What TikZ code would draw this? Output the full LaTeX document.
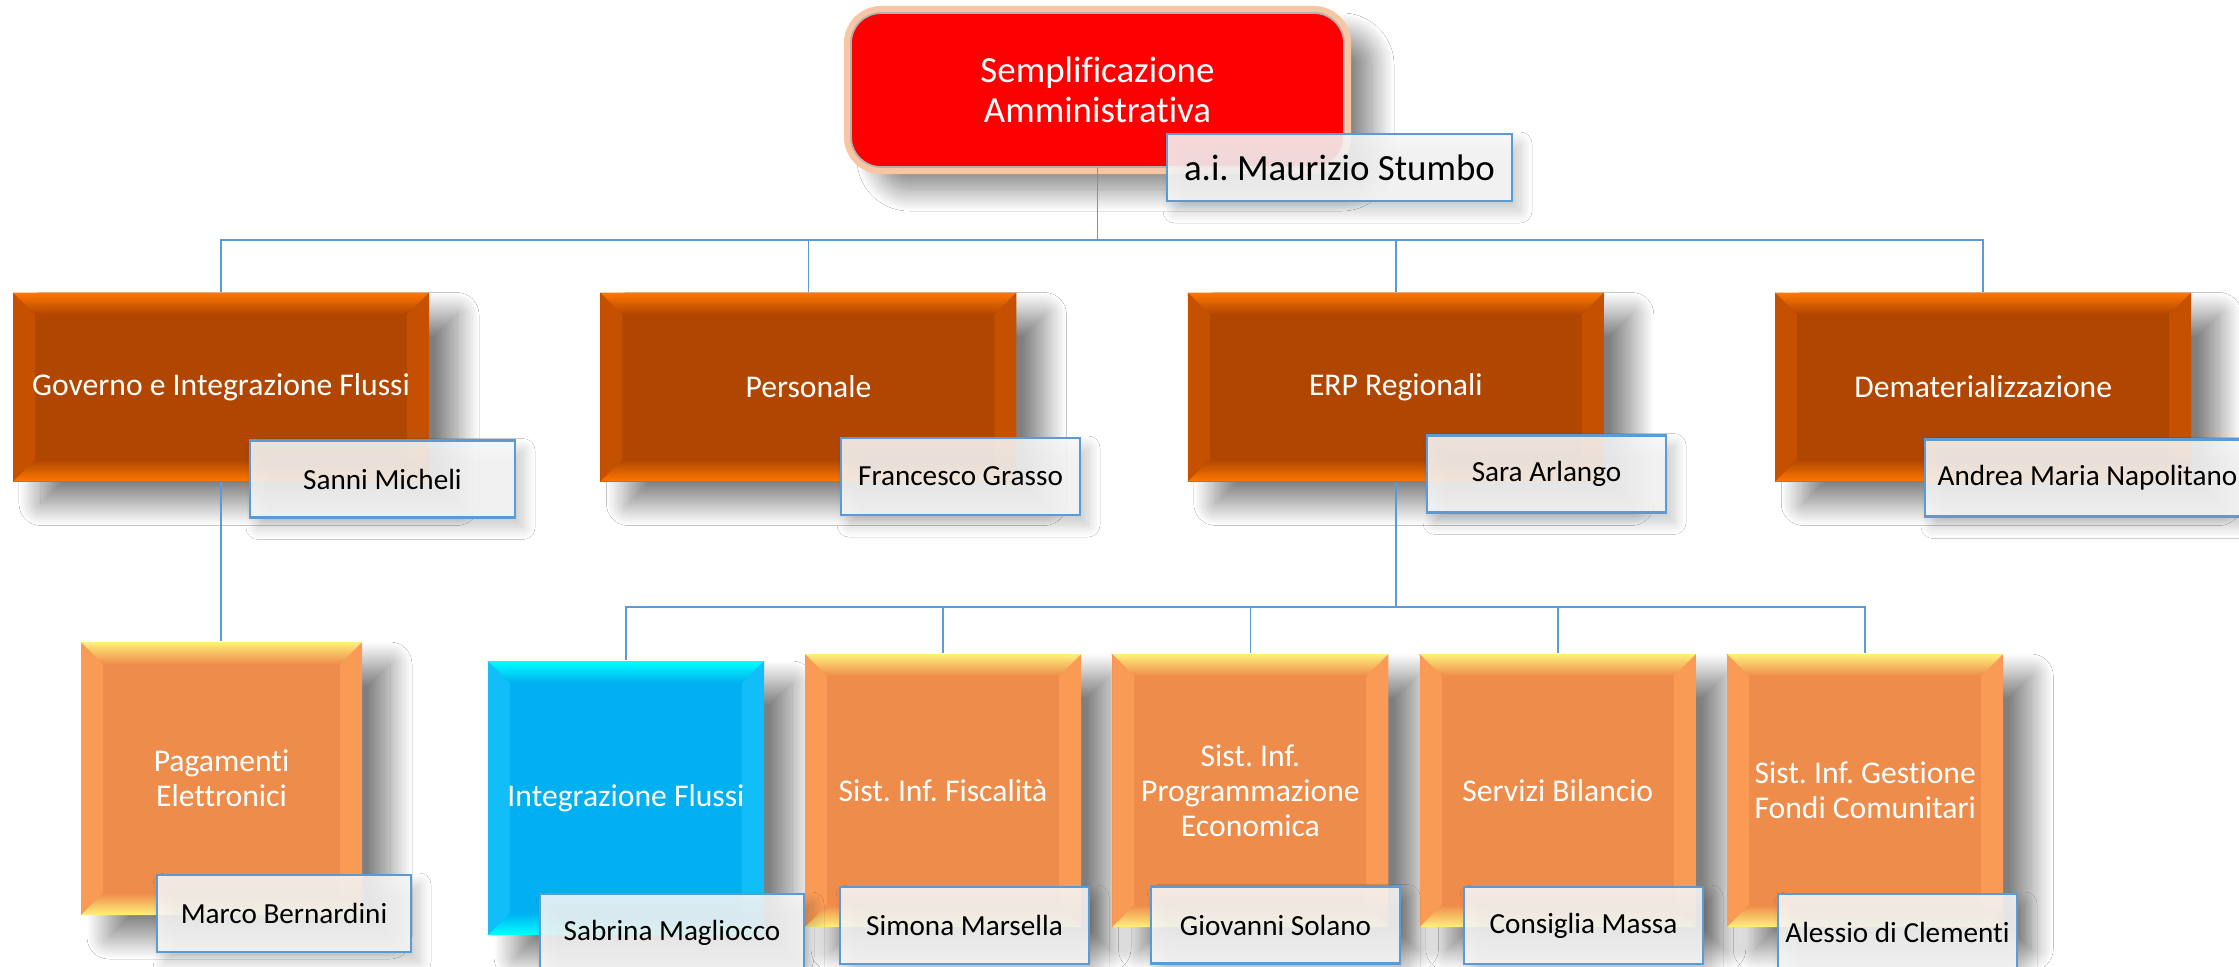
\documentclass[tikz,border=0pt]{standalone}
\usepackage{fontspec}
\setmainfont{Carlito}[Ligatures=NoCommon]
\usetikzlibrary{positioning,shadows.blur}

\definecolor{topred}{HTML}{FF0000}
\definecolor{glow}{HTML}{F8C6A2}
\definecolor{darkor}{HTML}{B04600}
\definecolor{darkedge}{HTML}{FF7800}
\definecolor{darkside}{HTML}{C45000}
\definecolor{lightor}{HTML}{EE8C4B}
\definecolor{lightedge}{HTML}{FFF07A}
\definecolor{lightside}{HTML}{F99B55}
\definecolor{cyanbox}{HTML}{00B0F0}
\definecolor{cyanedge}{HTML}{00FFFF}
\definecolor{cyanside}{HTML}{12BEF8}
\definecolor{lineblue}{HTML}{5B9BD5}
\definecolor{namefill}{HTML}{F7F7F7}

\newcommand{\bevsize}{0.22}
\tikzset{
  bevelled/.style n args={3}{path picture={
    \coordinate (bnw) at (path picture bounding box.north west);
    \coordinate (bne) at (path picture bounding box.north east);
    \coordinate (bsw) at (path picture bounding box.south west);
    \coordinate (bse) at (path picture bounding box.south east);
    \fill[#3] (bnw) -- ([shift={(\bevsize,-\bevsize)}]bnw) -- ([shift={(\bevsize,\bevsize)}]bsw) -- (bsw) -- cycle;
    \fill[#3] (bne) -- ([shift={(-\bevsize,-\bevsize)}]bne) -- ([shift={(-\bevsize,\bevsize)}]bse) -- (bse) -- cycle;
    \shade[top color=#2, bottom color=#1] (bnw) -- (bne) -- ([shift={(-\bevsize,-\bevsize)}]bne) -- ([shift={(\bevsize,-\bevsize)}]bnw) -- cycle;
    \shade[top color=#1, bottom color=#2] (bsw) -- (bse) -- ([shift={(-\bevsize,\bevsize)}]bse) -- ([shift={(\bevsize,\bevsize)}]bsw) -- cycle;
  }},
  box shadow/.style={blur shadow={shadow xshift=0.28cm, shadow yshift=-0.22cm,
    shadow blur radius=0.22cm, shadow blur steps=30, shadow opacity=50}},
}

\begin{document}
\frenchspacing
\begin{tikzpicture}[node distance=1.7cm,
	top node/.style={rounded corners=0.3cm, fill=topred, draw=black!30, line width=0.5pt,
		box shadow, preaction={draw=glow, line width=4pt},
		text=white, align=center, inner sep=0pt, minimum width=4.93cm, minimum height=1.54cm,
		font=\fontsize{10.5}{11.5}\selectfont},
	main node/.style={fill=darkor, bevelled={darkor}{darkedge}{darkside}, box shadow,
		text=white, inner sep=0pt, minimum width=4.16cm, minimum height=1.89cm,
		font=\fontsize{9}{10}\selectfont},
	sub node/.style={fill=lightor, bevelled={lightor}{lightedge}{lightside}, box shadow,
		text=white, align=center, inner sep=0pt, minimum width=2.76cm, minimum height=2.73cm,
		font=\fontsize{9}{10}\selectfont},
	name node/.style={draw=lineblue, line width=0.7pt, fill=namefill, fill opacity=0.88,
		text opacity=1, text=black, inner sep=0pt, minimum height=0.77cm,
		blur shadow={shadow xshift=0.08cm, shadow yshift=-0.1cm, shadow blur radius=0.12cm,
			shadow blur steps=20, shadow opacity=25},
		font=\fontsize{8.3}{10}\selectfont},
	conn/.style={draw=lineblue, line width=0.5pt}]
	
	\path[use as bounding box, fill=white] (0,0) rectangle (22.39,-9.67);
	
	\node[top node] (top) at (10.975,-0.90) {Semplificazione\\Amministrativa};
	
	\node[main node] (gov) at (2.21,-3.87) {Governo e Integrazione Flussi};
	\node[main node] (pers) [right=of gov] {Personale};
	\node[main node] (erp) [right=of pers] {ERP Regionali};
	\node[main node] (demat) [right=of erp] {Dematerializzazione};
	
	\node[sub node] (pag) at (2.215,-7.785) [minimum width=2.81cm] {Pagamenti\\Elettronici};
	\node[sub node] (integ) at (6.26,-7.98) [fill=cyanbox, bevelled={cyanbox}{cyanedge}{cyanside},
		minimum height=2.74cm] {Integrazione Flussi};
	\node[sub node] (fisc) at (9.43,-7.905) {Sist. Inf. Fiscalità};
	\node[sub node] (prog) [right=0.3cm of fisc] {Sist. Inf.\\Programmazione\\Economica};
	\node[sub node] (bil) [right=0.3cm of prog] {Servizi Bilancio};
	\node[sub node] (fondi) [right=0.3cm of bil] {Sist. Inf. Gestione\\Fondi Comunitari};
	
	\coordinate (bus1) at (0,-2.40);
	\coordinate (bus2) at (0,-6.07);
	\foreach \n in {gov,pers,erp,demat}
		\draw[conn] (top.south) |- (\n.north |- bus1) -- (\n.north);
	\draw[conn] (gov.south) -- (gov.south |- pag.north);
	\foreach \n in {integ,fisc,prog,bil,fondi}
		\draw[conn] (erp.south) |- (\n.north |- bus2) -- (\n.north);
	
	\node[name node] (stumbo) at (13.395,-1.675) [minimum width=3.45cm, minimum height=0.67cm,
		font=\fontsize{10.5}{12}\selectfont] {a.i. Maurizio Stumbo};
	\node[name node] (micheli) at (3.825,-4.79) [minimum width=2.65cm] {Sanni Micheli};
	\node[name node] (grasso) at (9.605,-4.765) [minimum width=2.39cm] {Francesco Grasso};
	\node[name node] (arlango) at (15.465,-4.74) [minimum width=2.39cm] {Sara Arlango};
	\node[name node] (napolitano) at (20.875,-4.78) [minimum width=3.25cm] {Andrea Maria Napolitano};
	\node[name node] (bernardini) at (2.84,-9.135) [minimum width=2.54cm] {Marco Bernardini};
	\node[name node] (magliocco) at (6.72,-9.33) [minimum width=2.64cm, minimum height=0.78cm] {Sabrina Magliocco};
	\node[name node] (marsella) at (9.645,-9.255) [minimum width=2.49cm] {Simona Marsella};
	\node[name node] (solano) at (12.755,-9.25) [minimum width=2.49cm] {Giovanni Solano};
	\node[name node] (massa) at (15.835,-9.255) [minimum width=2.39cm] {Consiglia Massa};
	\node[name node] (clementi) at (18.975,-9.325) [minimum width=2.39cm] {Alessio di Clementi};
\end{tikzpicture}
\end{document}
